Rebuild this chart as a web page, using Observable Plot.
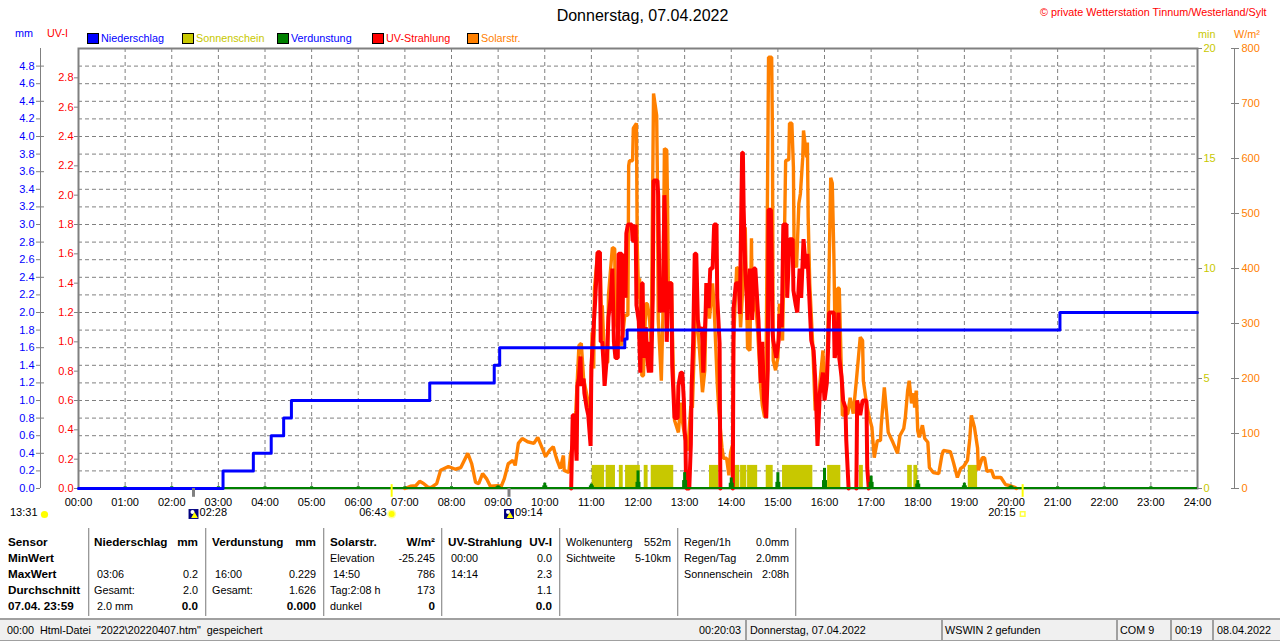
<!DOCTYPE html>
<html>
<head>
<meta charset="utf-8">
<script src="https://cdn.jsdelivr.net/npm/d3@7"></script>
<script src="https://cdn.jsdelivr.net/npm/@observablehq/plot@0.6"></script>
<style>
html,body{margin:0;padding:0;background:#fff;overflow:hidden}
body{width:1280px;height:641px;position:relative;font:10.8px "Liberation Sans",Arial,sans-serif;color:#000}
.a{position:absolute;white-space:pre;line-height:14px}
#chart{position:absolute;left:0;top:44px}
#chart svg{display:block;overflow:visible}
.sw{position:absolute;top:33px;width:10px;height:9px;border:1px solid #000}
.col{position:absolute;top:534px}
.row{display:flex;justify-content:space-between;height:16px;line-height:16px;white-space:pre}
.b{font-weight:bold;font-size:11.7px}
.sep{position:absolute;top:528px;height:88px;width:1px;background:#999;border-right:1px solid #ddd}
#status{position:absolute;left:0;top:618px;width:1280px;height:20px;background:#f0f0f0;border-top:2px solid #a0a0a0;border-bottom:2px solid #a0a0a0}
</style>
</head>
<body>
<div id="header"></div>
<div id="chart"></div>
<div id="table"></div>
<div id="status"></div>
<script>
// ---- chart data ----
const hourLabels = ["00:00","01:00","02:00","03:00","04:00","05:00","06:00","07:00","08:00","09:00","10:00","11:00","12:00","13:00","14:00","15:00","16:00","17:00","18:00","19:00","20:00","21:00","22:00","23:00","24:00"];
const mmTicks = [0,0.2,0.4,0.6,0.8,1.0,1.2,1.4,1.6,1.8,2.0,2.2,2.4,2.6,2.8,3.0,3.2,3.4,3.6,3.8,4.0,4.2,4.4,4.6,4.8];
const mmMajor = [0.4,0.8,1.2,1.6,2.0,2.4,2.8,3.2,3.6,4.0,4.4,4.8];
const uvTicks = [0,0.2,0.4,0.6,0.8,1.0,1.2,1.4,1.6,1.8,2.0,2.2,2.4,2.6,2.8];
const minTicks = [0,5,10,15,20];
const wattTicks = [0,100,200,300,400,500,600,700,800];

const rainMinutes = [0,186,225,248,264,274,452,535,542,703,706,1263,1440];
const rainMm =      [0,0.2,0.4,0.6,0.8,1.0,1.2,1.4,1.6,1.7,1.8,2.0,2.0];

const sunStart = [661,679,696,704,728,737,812,844,852,861,885,906,964,1005,1067,1075,1145];
const sunEnd   = [677,691,701,723,733,766,824,851,860,874,894,945,981,1010,1073,1080,1157];
const sunHeightMin = 1.05;

const evapHour = [1,2,3,4,5,6,7,8,9,10,11,12,13,14,15,16,17,18,19,20,21,22,23];
const evapMm   = [0.02,0.02,0.02,0.02,0.02,0.02,0.02,0.02,0.03,0.06,0.05,0.20,0.18,0.12,0.18,0.229,0.14,0.09,0.06,0.03,0.02,0.02,0.02];
const evapBase = [0.01,0.01,0.01,0.01,0.01,0.01,0.01,0.01,0.02,0.03,0.03,0.07,0.09,0.06,0.07,0.09,0.07,0.05,0.03,0.02,0.01,0.01,0.01];

const solarMinutes = [420,427,434,439,444,450,454,461,466,476,485,492,501,506,511,515,520,525,530,539,544,548,553,559,562,566,571,578,586,591,598,601,606,611,614,616,620,624,625,631,633,637,640,644,647,650,655,659,661,663,664,668,671,673,674,677,681,682,687,690,691,695,699,703,707,708,709,713,714,718,719,721,722,725,727,730,732,735,737,740,744,745,746,750,752,754,757,758,759,763,764,767,772,775,777,780,784,788,790,794,798,803,806,808,812,816,818,822,824,828,830,834,837,839,842,843,847,849,852,856,858,861,864,866,867,871,874,878,880,883,885,888,892,893,894,897,900,902,906,909,910,914,915,918,920,921,924,927,929,932,933,937,938,939,941,945,948,952,958,959,963,965,968,970,972,974,977,979,982,983,990,993,997,1001,1006,1009,1010,1014,1017,1021,1024,1028,1032,1033,1037,1040,1042,1048,1054,1057,1062,1064,1067,1069,1072,1075,1076,1078,1080,1082,1086,1089,1093,1095,1100,1107,1111,1113,1122,1126,1131,1135,1139,1144,1147,1149,1153,1157,1158,1163,1166,1169,1175,1178,1187,1193,1199,1205,1207];
const solarWatts =   [0,4,5,13,9,2,2,9,33,40,35,38,64,45,11,9,27,18,4,5,4,18,45,51,42,82,91,85,82,93,69,58,69,76,60,51,36,60,33,29,60,87,142,260,264,200,164,127,284,218,364,429,429,309,333,229,229,351,438,436,309,278,260,315,315,587,596,596,655,664,442,345,382,205,205,336,336,305,260,718,678,564,309,196,309,618,615,520,369,375,300,124,102,156,124,96,69,150,147,329,275,175,215,373,309,373,329,191,142,75,55,55,24,64,82,269,402,400,293,396,475,255,251,455,318,347,287,182,151,129,245,784,784,645,233,215,238,336,269,505,596,598,664,664,584,415,402,518,536,602,651,602,629,493,373,256,142,160,251,202,202,324,565,555,427,238,364,364,196,133,136,165,136,196,275,269,196,155,133,111,56,87,87,115,184,136,102,84,64,96,109,129,178,196,155,173,147,178,105,93,115,91,84,38,29,27,60,69,67,47,20,36,40,51,91,133,111,73,33,56,56,31,33,20,20,7,5,2,0];

// NaN marks the stretches where no UV trace is drawn above the baseline
const uvMinutes = [634,636,638,641,642,644,646,647,650,651,654,656,659,660,663,665,668,671,672,674,676,677,680,682,685,687,689,691,694,695,699,700,701,704,705,707,712,713,716,717,718,721,723,725,726,727,730,732,734,736,737,739,740,745,746,748,750,752,754,755,757,759,763,764,767,771,772,775,777,779,780,781,782,786,788,789,791,793,795,797,799,802,803,804,807,808,811,813,816,818,821,822,825,826,829,842,843,846,850,851,854,855,856,858,860,861,864,867,869,871,874,875,878,880,882,885,887,888,891,892,893,894,898,901,902,905,907,911,912,915,919,920,923,925,928,930,933,936,938,941,943,946,948,950,951,954,958,960,963,965,966,972,973,976,978,979,982,984,987,988,991,996,1001,1002,1006,1009,1014,1015,1017];
const uvIndex =   [0,0.50,0.50,0.19,0.70,0.75,0.90,0.70,0.75,0.65,0.55,0.50,0.29,0.82,1.11,1.29,1.61,1.61,1.00,1.00,0.82,0.70,0.90,1.17,1.30,1.50,1.00,0.89,0.89,1.60,1.60,1.00,1.60,1.30,1.74,1.80,1.80,1.69,1.69,1.80,1.25,1.14,0.79,1.40,1.40,0.89,1.10,0.89,0.79,1.00,0.79,1.30,2.10,2.10,2.00,1.20,1.37,1.20,2.00,1.80,1.00,1.40,1.40,0.84,0.48,0.48,0.70,0.79,0.79,0.60,0.40,0.33,0,0,0.30,0.69,1.00,1.60,1.60,1.15,1.07,1.10,0.99,0.79,1.20,1.40,1.23,1.50,1.50,1.80,1.80,1.30,0.99,0,NaN,0,1.23,1.40,1.40,1.19,2.29,2.29,1.90,1.49,1.30,1.15,1.50,1.15,1.50,1.50,1.23,1.15,0.72,1.00,0.60,0.48,0.81,1.90,1.90,1.60,1.08,1.01,0.89,1.01,1.19,1.10,1.80,1.80,1.30,1.70,1.70,1.35,1.25,1.20,1.50,1.30,1.70,1.50,1.60,1.24,1.01,0.94,0.75,0.47,0.29,0.65,0.79,0.60,0.72,1.01,1.20,1.20,0.89,0.98,1.20,0.89,0.76,0.60,0.55,0.33,0,NaN,0,0.60,0.50,0.60,0.60,0.14,0];

const twilightTimes = [148,554];
const sunTimes = [403,1215];

// ---- text content ----
const legendNames = ["Niederschlag","Sonnenschein","Verdunstung","UV-Strahlung","Solarstr."];
const legendSwatch = ["#0000ff","#c8c800","#008000","#ff0000","#ff8000"];
const legendText = ["#0000ff","#c8c800","#0000ff","#ff0000","#ff8000"];
const colSensor = [["Sensor",""],["MinWert",""],["MaxWert",""],["Durchschnitt",""],["07.04. 23:59",""]];
const colRain = [["Niederschlag","mm"],["",""],["\u00a003:06","0.2"],["Gesamt:","2.0"],["\u00a02.0 mm","0.0"]];
const colEvap = [["Verdunstung","mm"],["",""],["\u00a016:00","0.229"],["Gesamt:","1.626"],["","0.000"]];
const colSolar = [["Solarstr.","W/m\u00b2"],["Elevation","-25.245"],["\u00a014:50","786"],["Tag:2:08 h","173"],["dunkel","0"]];
const colUv = [["UV-Strahlung","UV-I"],["\u00a000:00","0.0"],["\u00a014:14","2.3"],["","1.1"],["","0.0"]];
const colCloud = [["Wolkenunterg","552m"],["Sichtweite","5-10km"],["",""],["",""],["",""]];
const colRegen = [["Regen/1h","0.0mm"],["Regen/Tag","2.0mm"],["Sonnenschein","2:08h"],["",""],["",""]];

// ---- scale factors: every series is drawn on the single W/m² y scale ----
const perMm = 160, perUv = 800/3, perMin = 40;
const FONT = '"Liberation Sans",Arial,sans-serif';
const GRAY = "#808080", BLUE = "#0000ff", RED = "#ff0000", ORANGE = "#ff8000", OLIVE = "#c8c800", GREEN = "#008000";

const plot = Plot.plot({
  width: 1280, height: 480,
  marginTop: 4, marginBottom: 36, marginLeft: 78, marginRight: 83,
  x: {domain: [0, 1440], axis: null},
  y: {domain: [0, 800], axis: null},
  style: {fontFamily: FONT, fontSize: "11px", background: "#fff", color: "#000"},
  marks: [
    Plot.ruleY(mmTicks.slice(1), {y: d => d*perMm, stroke: GRAY, strokeDasharray: "4,3"}),
    Plot.ruleX(hourLabels.slice(1,-1), {x: (d,i) => (i+1)*60, stroke: GRAY, strokeDasharray: "4,3"}),
    Plot.frame({stroke: GRAY, strokeWidth: 2}),
    // secondary axes
    Plot.ruleX([0], {dx: -38, stroke: GRAY}),
    Plot.ruleX([1440], {dx: 37, stroke: GRAY}),
    Plot.axisY({anchor: "left", ticks: mmTicks.map(d => d*perMm), tickFormat: d => (d/perMm).toFixed(1), tickSize: 4, tickPadding: 2, dx: -38, fill: BLUE, stroke: GRAY}),
    Plot.axisY({anchor: "left", ticks: mmMajor.map(d => d*perMm), tickFormat: () => "", tickSize: 4, dx: -34, stroke: GRAY}),
    Plot.axisY({anchor: "left", ticks: uvTicks.map(d => d*perUv), tickFormat: d => (d/perUv).toFixed(1), tickSize: 4, tickPadding: 1, fill: RED, stroke: GRAY}),
    Plot.axisY({anchor: "right", ticks: minTicks.map(d => d*perMin), tickFormat: d => String(d/perMin), tickSize: 4, tickPadding: 2, fill: OLIVE, stroke: GRAY}),
    Plot.axisY({anchor: "right", ticks: wattTicks, tickFormat: d => String(d), tickSize: 8, tickPadding: 3, dx: 33, fill: ORANGE, stroke: GRAY}),
    Plot.axisX({anchor: "bottom", ticks: hourLabels.map((d,i) => i*60), tickFormat: d => hourLabels[d/60], tickSize: 0, tickPadding: 10, fill: "#000"}),
    // series
    Plot.rect(sunStart, {x1: d => d, x2: (d,i) => sunEnd[i], y1: 0, y2: sunHeightMin*perMin, fill: OLIVE}),
    Plot.line(solarMinutes, {x: d => d, y: (d,i) => solarWatts[i], stroke: ORANGE, strokeWidth: 3.4, strokeLinejoin: "bevel"}),
    Plot.line(uvMinutes, {x: d => d, y: (d,i) => uvIndex[i]*perUv, stroke: RED, strokeWidth: 4, strokeLinejoin: "bevel"}),
    Plot.ruleX(evapHour, {x: d => d*60, y1: 0, y2: (d,i) => evapBase[i]*perMm, stroke: GREEN, strokeWidth: 5}),
    Plot.ruleX(evapHour, {x: d => d*60, y1: 0, y2: (d,i) => evapMm[i]*perMm, stroke: GREEN, strokeWidth: 3}),
    Plot.ruleY([0], {stroke: GREEN, strokeWidth: 2, dy: -0.5}),
    Plot.line(rainMinutes, {x: d => d, y: (d,i) => rainMm[i]*perMm, stroke: BLUE, strokeWidth: 3, curve: "step-after"}),
    // twilight / sun markers under the axis
    Plot.ruleX(twilightTimes, {y1: 0, y2: -16, stroke: GRAY, strokeWidth: 3}),
    Plot.ruleX(sunTimes, {y1: 7, y2: -16, stroke: "#ffff00", strokeWidth: 2}),
    Plot.text(["02:28"], {x: twilightTimes[0], frameAnchor: "bottom", dy: 27, dx: 6, textAnchor: "start"}),
    Plot.text(["09:14"], {x: twilightTimes[1], frameAnchor: "bottom", dy: 27, dx: 6, textAnchor: "start"}),
    Plot.text(["06:43"], {x: sunTimes[0], frameAnchor: "bottom", dy: 27, dx: -5, textAnchor: "end"}),
    Plot.text(["20:15"], {x: sunTimes[1], frameAnchor: "bottom", dy: 27, dx: -7, textAnchor: "end"}),
    Plot.text(["13:31"], {frameAnchor: "bottom-left", dy: 27, dx: -41, textAnchor: "end"}),
    Plot.dot(twilightTimes, {x: d => d, frameAnchor: "bottom", dy: 25.5, symbol: "square", r: 5.6, fill: "#000080"}),
    Plot.dot(twilightTimes, {x: d => d, frameAnchor: "bottom", dy: 23.5, dx: -1, r: 2, fill: "#fff"}),
    Plot.dot(twilightTimes, {x: d => d, frameAnchor: "bottom", dy: 27.5, dx: 1, symbol: "triangle", r: 2.5, fill: "#ffff00"}),
    Plot.dot([sunTimes[0]], {x: d => d, frameAnchor: "bottom", dy: 25.5, r: 4.5, fill: "#ffffa0"}),
    Plot.dot([sunTimes[0]], {x: d => d, frameAnchor: "bottom", dy: 25.5, r: 3, fill: "#ffff00"}),
    Plot.dot([sunTimes[1]], {x: d => d, frameAnchor: "bottom", dy: 25.5, symbol: "square", r: 2.6, stroke: "#ffff40", fill: "none"}),
    Plot.dot(["13:31"], {frameAnchor: "bottom-left", dy: 26, dx: -34, r: 3.6, fill: "#ffff00"})
  ]
});
document.getElementById("chart").append(plot);

// ---- header ----
function put(parent, text, css) {
  const el = document.createElement("div");
  el.className = "a"; el.textContent = text; el.style.cssText = css;
  parent.append(el); return el;
}
const header = document.getElementById("header");
put(header, "Donnerstag, 07.04.2022", "left:0;width:1285px;text-align:center;top:7px;font-size:16px;line-height:18px");
put(header, "\u00a9 private Wetterstation Tinnum/Westerland/Sylt", `left:1040px;top:5px;color:${RED}`);
put(header, "mm", `left:15px;top:26px;color:${BLUE}`);
put(header, "UV-I", `left:47px;top:26px;color:${RED}`);
put(header, "min", `left:1198px;top:27px;color:${OLIVE}`);
put(header, "W/m\u00b2", `left:1234px;top:27px;color:${ORANGE}`);
legendNames.forEach((name, i) => {
  const sw = document.createElement("div");
  sw.className = "sw"; sw.style.left = (87 + i*95) + "px"; sw.style.background = legendSwatch[i];
  header.append(sw);
  put(header, name, `left:${101 + i*95}px;top:31px;color:${legendText[i]}`);
});

// ---- table below the chart ----
const table = document.getElementById("table");
[[colSensor,8,76],[colRain,94,104],[colEvap,212,104],[colSolar,330,105],[colUv,448,104],[colCloud,566,105],[colRegen,684,105]].forEach(([rows,left,w], c) => {
  const col = document.createElement("div");
  col.className = "col"; col.style.left = left + "px"; col.style.width = w + "px";
  rows.forEach((r, j) => {
    const row = document.createElement("div"); row.className = "row";
    const a = document.createElement("span"), b = document.createElement("span");
    a.textContent = r[0]; b.textContent = r[1];
    const dataCol = c >= 1 && c <= 4;
    if (c === 0 || (dataCol && j === 0)) a.className = "b";
    if (dataCol && (j === 0 || j === 4)) b.className = "b";
    row.append(a, b); col.append(row);
  });
  table.append(col);
});
[88,205,323,441,559,677,795].forEach(x => {
  const s = document.createElement("div"); s.className = "sep"; s.style.left = x + "px"; table.append(s);
});

// ---- status bar ----
const status = document.getElementById("status");
put(status, '00:00  Html-Datei  "2022\\20220407.htm"  gespeichert', "left:7px;top:3px");
put(status, "00:20:03", "left:699px;top:3px");
put(status, "Donnerstag, 07.04.2022", "left:750px;top:3px");
put(status, "WSWIN 2 gefunden", "left:945px;top:3px");
put(status, "COM 9", "left:1120px;top:3px");
put(status, "00:19", "left:1175px;top:3px");
put(status, "08.04.2022", "left:1217px;top:3px");
[745,941,1116,1170,1212].forEach(x => {
  const s = document.createElement("div");
  s.style.cssText = `position:absolute;left:${x}px;top:0;width:2px;height:20px;background:#a0a0a0`;
  status.append(s);
});
</script>
</body>
</html>
